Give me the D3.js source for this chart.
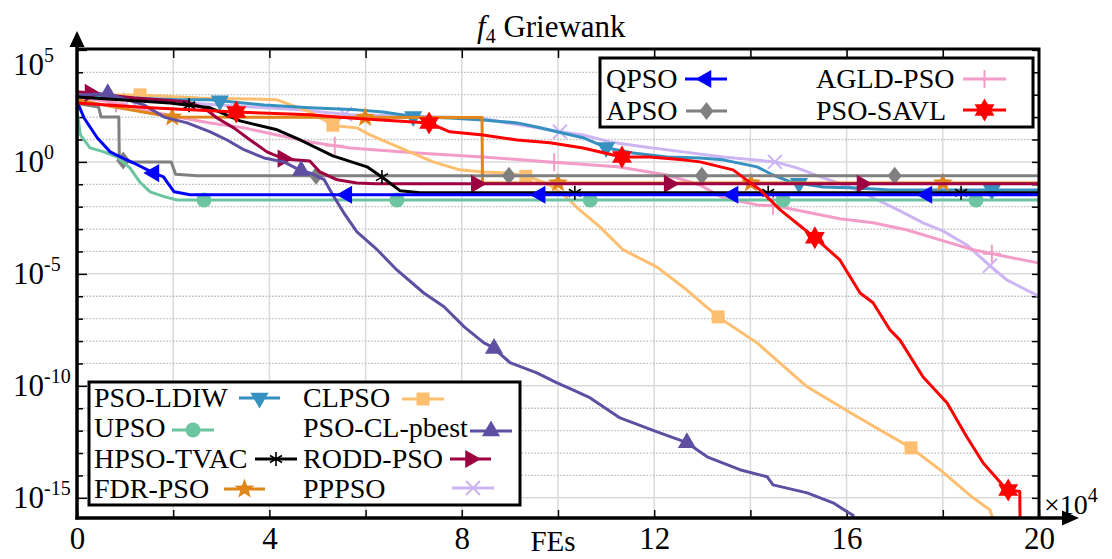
<!DOCTYPE html>
<html><head><meta charset="utf-8">
<script src="https://cdn.jsdelivr.net/npm/d3@7"></script>
<style>
body{margin:0;background:#fff;}
</style>
</head><body>
<svg id="chart" width="1112" height="559"></svg>
<script>
// ---------- data (x in units of 1e4 FEs, y = fitness) ----------
const xTickValues = [0, 4, 8, 12, 16, 20];
const yTickExponents = [5, 0, -5, -10, -15];

const PSO_LDIW = [[0,8.9e2],[2.08,5.9e2],[2.77,5.9e2],[3.89,3.5e2],[4.84,2.6e2],[5.82,2.1e2],[6.36,1.7e2],[7.07,1.0e2],[7.75,9.1e1],[8.44,7.5e1],[9.15,5.5e1],[9.56,3.6e1],[9.98,2.2e1],[10.52,1.2e1],[11.02,4.2],[11.56,2.5],[12.27,1.66],[12.95,1.5],[13.43,1.23],[14.14,0.6],[14.47,0.26],[14.82,0.13],[15.51,7.6e-2],[16.22,6.9e-2],[16.9,5.6e-2],[20,5.6e-2]];
const UPSO = [[0,2.0e2],[0.07,1.6e1],[0.27,4.2],[0.56,2.8],[0.83,1.66],[1.1,0.54],[1.3,0.13],[1.52,4.6e-2],[1.81,2.8e-2],[2.08,2.0e-2],[20,2.0e-2]];
const HPSO_TVAC = [[0,7.9e2],[1.93,4.3e2],[2.77,2.6e2],[3.39,6.8e1],[4.16,2.7e1],[4.64,9.5],[5.32,1.86],[6.03,0.6],[6.36,0.195],[6.72,5.1e-2],[7.13,4.2e-2],[20,4.2e-2]];
const FDR_PSO = [[0,5.9e2],[0.7,3.0e2],[1.46,1.55e2],[1.98,1.0e2],[8.42,9.5e1],[8.43,1.15e-1],[20,1.15e-1]];
const CLPSO = [[0,9.8e2],[1.31,9.8e2],[2.56,7.2e2],[3.6,6.5e2],[4.16,5.9e2],[4.84,1.7e2],[5.2,6.2e1],[5.34,4.1e1],[5.82,3.3e1],[6.09,1.6e1],[6.72,4.2],[7.4,1.0],[7.96,0.44],[8.44,0.35],[8.94,0.32],[9.42,0.21],[9.83,9.3e-2],[10.19,2.5e-2],[10.4,8.9e-3],[10.87,1.26e-3],[11.35,1.2e-4],[12.06,2.0e-5],[12.6,2.6e-6],[13.33,1.2e-7],[14.14,8.3e-9],[15.18,9.1e-11],[16.22,4.2e-12],[17.34,1.7e-13],[17.94,1.8e-14],[18.63,1.0e-15],[18.98,2.9e-16],[19.09,5e-17]];
const PSO_CL_pbest = [[0,9.8e2],[0.64,1.1e3],[1.39,3.5e2],[1.81,1.0e2],[2.29,5.5e1],[2.77,2.2e1],[3.12,9.5],[3.47,3.5],[3.89,1.5],[4.3,1.0],[4.62,0.44],[4.84,0.32],[5.14,0.16],[5.34,2.8e-2],[5.55,5.2e-3],[5.82,7.5e-4],[6.24,1.2e-4],[6.65,1.5e-5],[7.21,1.4e-6],[7.63,3.4e-7],[8.05,4.3e-8],[8.46,8.3e-9],[8.63,5.5e-9],[9.0,1.1e-9],[9.56,3.8e-10],[9.98,1.35e-10],[10.31,6.6e-11],[10.67,2.9e-11],[11.29,3.7e-12],[12.06,8.9e-13],[12.68,2.9e-13],[13.1,6.8e-14],[13.78,1.8e-14],[14.35,8.7e-15],[14.47,3.8e-15],[15.18,1.66e-15],[15.72,6.0e-16],[16.01,2.4e-16],[16.13,1.7e-16],[16.22,1e-17]];
const RODD_PSO = [[0,1.35e3],[0.27,1.2e3],[1.19,7.2e2],[2.29,4.8e2],[2.64,2.6e2],[2.91,9.1e1],[3.26,3.3e1],[3.6,9.5],[3.95,2.8],[4.3,1.35],[4.84,1.1],[5.05,0.355],[5.41,0.158],[5.82,0.115],[6.2,0.105],[20,0.105]];
const PPPSO = [[0,7.9e2],[1.1,5.9e2],[2.56,3.9e2],[4.64,2.1e2],[5.68,1.26e2],[8.38,9.1e1],[8.79,6.2e1],[9.48,3.6e1],[10.04,2.2e1],[10.52,1.6e1],[11.08,7.8],[11.77,4.7],[12.6,2.8],[13.43,1.66],[14.51,1.0],[14.97,0.54],[15.51,0.195],[16.07,7.6e-2],[16.55,2.5e-2],[17.11,6.5e-3],[17.59,1.9e-3],[18.0,8.3e-4],[18.5,1.95e-4],[18.98,2.3e-5],[19.33,5.4e-6],[19.98,1.05e-6]];
const QPSO = [[0,5.0e2],[0.15,8.9e1],[0.42,1.2e1],[0.69,2.8],[0.9,1.66],[1.18,0.89],[1.6,0.316],[1.8,0.214],[1.87,0.129],[2.02,4.6e-2],[2.35,3.4e-2],[20,3.4e-2]];
const APSO = [[0,4.0e2],[0.45,2.8e2],[0.5,1.0e2],[0.87,1.0e2],[0.88,1.26],[1.1,1.0],[1.96,1.0],[2.05,0.28],[2.5,0.24],[20,0.24]];
const AGLD_PSO = [[0,7.9e2],[0.69,4.8e2],[1.39,2.1e2],[2.08,1.0e2],[2.77,5.5e1],[3.47,3.3e1],[4.16,1.6e1],[4.84,7.8],[5.68,4.2],[7.07,2.5],[8.44,1.66],[9.83,1.0],[11.23,0.6],[12.27,0.26],[12.95,9.3e-2],[13.43,2.5e-2],[14.14,1.2e-2],[14.51,1.1e-2],[15.86,2.9e-3],[16.55,1.9e-3],[17.26,9.1e-4],[17.94,3.3e-4],[18.63,1.2e-4],[19.33,5.8e-5],[19.98,3.1e-5]];
const PSO_SAVL = [[0,4.3e2],[1.52,2.6e2],[3.31,1.7e2],[4.84,1.26e2],[5.68,9.1e1],[7.32,5.5e1],[7.75,2.2e1],[8.44,1.6e1],[9.15,9.5],[9.83,7.1],[10.52,4.2],[11.33,1.66],[11.91,1.66],[12.6,1.23],[12.95,1.0],[13.64,0.44],[14.2,5.6e-2],[14.62,7.2e-3],[15.34,4.1e-4],[15.86,4.2e-5],[16.28,1.4e-6],[16.55,5.1e-7],[16.9,3.2e-8],[17.11,1.1e-8],[17.59,2.5e-10],[18.09,1.7e-11],[18.5,5.2e-13],[18.84,3.6e-14],[19.33,2.3e-15],[19.6,1.9e-15],[19.61,1e-17]];

// marker x positions (x in 1e4 FEs)
const marksLDIW = [2.97, 6.99, 11.0, 15.01, 19.02];
const marksUPSO = [2.64, 6.65, 10.67, 14.68, 18.69];
const marksHPSO = [2.33, 6.34, 10.35, 14.37, 18.38];
const marksFDR = [1.98, 5.99, 10.0, 14.01, 18.0];
const marksCLPSO = [1.31, 5.32, 9.33, 13.33, 17.34];
const marksCLpbest = [0.64, 4.66, 8.67, 12.68];
const marksRODD = [0.27, 4.28, 8.3, 12.31, 16.32];
const marksPPPSO = [1.1, 5.57, 10.04, 14.51, 18.98];
const marksQPSO = [1.6, 5.61, 9.63, 13.64, 17.67];
const marksAPSO = [0.96, 4.97, 8.98, 12.99, 17.0];
const marksAGLD = [0.81, 5.36, 9.92, 14.47, 19.02];
const marksSAVL = [3.31, 7.32, 11.33, 15.34, 19.36];

const series = [
  {name:"PPPSO", data:PPPSO, color:"#cdb4f3", marker:"x", marks:marksPPPSO},
  {name:"AGLD-PSO", data:AGLD_PSO, color:"#f39cc8", marker:"plus", marks:marksAGLD},
  {name:"CLPSO", data:CLPSO, color:"#fdbf6f", marker:"square", marks:marksCLPSO},
  {name:"PSO-LDIW", data:PSO_LDIW, color:"#3690c0", marker:"triDown", marks:marksLDIW},
  {name:"FDR-PSO", data:FDR_PSO, color:"#e0861a", marker:"star", marks:marksFDR},
  {name:"APSO", data:APSO, color:"#808080", marker:"diamond", marks:marksAPSO},
  {name:"RODD-PSO", data:RODD_PSO, color:"#9e0142", marker:"triRight", marks:marksRODD},
  {name:"UPSO", data:UPSO, color:"#6cc5a0", marker:"circle", marks:marksUPSO},
  {name:"PSO-CL-pbest", data:PSO_CL_pbest, color:"#5e4fa2", marker:"triUp", marks:marksCLpbest},
  {name:"HPSO-TVAC", data:HPSO_TVAC, color:"#000000", marker:"asterisk", marks:marksHPSO},
  {name:"QPSO", data:QPSO, color:"#0000ff", marker:"triLeft", marks:marksQPSO},
  {name:"PSO-SAVL", data:PSO_SAVL, color:"#ff0000", marker:"hexagram", marks:marksSAVL}
];
const byName = {}; series.forEach(s => byName[s.name] = s);

const FONT = "'Liberation Serif', Tinos, 'Times New Roman', Times, 'Nimbus Roman', 'DejaVu Serif', 'Noto Serif', serif";

// ---------- layout ----------
const svg = d3.select("#chart");
const P = {l:77, r:1039, t:49, b:518};
const x = d3.scaleLinear().domain([0,20]).range([P.l,P.r]);
const y = d3.scaleLog().domain([Math.pow(10,-15.9), Math.pow(10,5.04)]).range([P.b,P.t]);

svg.append("defs").append("clipPath").attr("id","clip")
  .append("rect").attr("x",P.l).attr("y",P.t).attr("width",P.r-P.l).attr("height",P.b-P.t);

function txt(g, xx, yy, size){
  return g.append("text").attr("x",xx).attr("y",yy).attr("font-size",size)
    .attr("font-family",FONT).attr("fill","#000");
}

// gridlines
const grid = svg.append("g");
d3.range(2,20,2).forEach(v => {
  grid.append("line").attr("x1",x(v)).attr("x2",x(v)).attr("y1",P.t).attr("y2",P.b)
    .attr("stroke","#dadada").attr("stroke-width",1.5);
});
d3.range(-15,5).forEach(e => {
  const yy = y(Math.pow(10,e));
  const major = e % 5 === 0;
  grid.append("line").attr("x1",P.l).attr("x2",P.r).attr("y1",yy).attr("y2",yy)
    .attr("stroke", major ? "#dadada" : "#bdbdbd")
    .attr("stroke-width", major ? 1.5 : 1.3)
    .attr("stroke-dasharray", major ? null : "1.6,1.6");
});

// axes (inward ticks)
const decades = d3.range(-15,6).map(e => Math.pow(10,e));
const xAxis = svg.append("g").attr("transform",`translate(0,${P.b})`)
  .call(d3.axisBottom(x).tickValues(d3.range(0,21,2)).tickSize(-8).tickPadding(9)
        .tickFormat(d => xTickValues.includes(d) ? d : ""));
const xTop = svg.append("g").attr("transform",`translate(0,${P.t})`)
  .call(d3.axisTop(x).tickValues(d3.range(2,20,2)).tickSize(-9).tickFormat(""));
const yAxis = svg.append("g").attr("transform",`translate(${P.l},0)`)
  .call(d3.axisLeft(y).tickValues(decades).tickSize(-6).tickFormat(""));
const yRight = svg.append("g").attr("transform",`translate(${P.r},0)`)
  .call(d3.axisRight(y).tickValues(decades).tickSize(-7).tickFormat(""));
[xAxis,xTop,yAxis,yRight].forEach(g => {
  g.attr("font-family",FONT);
  g.select(".domain").remove();
  g.selectAll(".tick line").attr("stroke","#000").attr("stroke-width",1.5);
});
yAxis.selectAll(".tick line").attr("x2", d => (Math.round(Math.log10(d)) % 5 === 0) ? 10 : 6);
xAxis.selectAll(".tick text").attr("font-family",FONT).attr("font-size",31).attr("fill","#000");

// series lines + markers
const line = d3.line().x(d => x(d[0])).y(d => y(d[1]));
const plotG = svg.append("g").attr("clip-path","url(#clip)");

function valueAt(data, xv){
  for (let i=0;i<data.length-1;i++){
    const a=data[i], b=data[i+1];
    if (xv>=a[0] && xv<=b[0]){
      const t=(b[0]===a[0])?0:(xv-a[0])/(b[0]-a[0]);
      return Math.pow(10, Math.log10(a[1]) + t*(Math.log10(b[1])-Math.log10(a[1])));
    }
  }
  return data[data.length-1][1];
}

function triPath(r, angleDeg){
  const pts=[0,120,240].map(a => {
    const t=(a+angleDeg-90)*Math.PI/180;
    return [r*Math.cos(t), r*Math.sin(t)];
  });
  return "M"+pts.map(p=>p.join(",")).join("L")+"Z";
}
function starPath(R, n, innerRatio){
  let p="";
  for(let i=0;i<2*n;i++){
    const r = i%2===0 ? R : R*innerRatio;
    const t = -Math.PI/2 + i*Math.PI/n;
    p += (i===0?"M":"L")+(r*Math.cos(t)).toFixed(2)+","+(r*Math.sin(t)).toFixed(2);
  }
  return p+"Z";
}
function drawMarker(g, type, color, cx, cy){
  const m = g.append("g").attr("transform",`translate(${cx},${cy})`);
  switch(type){
    case "circle": m.append("circle").attr("r",7.5).attr("fill",color); break;
    case "square": m.append("rect").attr("x",-6.5).attr("y",-6.5).attr("width",13).attr("height",13).attr("fill",color); break;
    case "diamond": m.append("path").attr("d","M0,-9L7,0L0,9L-7,0Z").attr("fill",color); break;
    case "triUp": m.append("path").attr("d",triPath(10.5,0)).attr("fill",color); break;
    case "triDown": m.append("path").attr("d",triPath(10.5,180)).attr("fill",color); break;
    case "triLeft": m.append("path").attr("d",triPath(10.5,-90)).attr("fill",color); break;
    case "triRight": m.append("path").attr("d",triPath(10.5,90)).attr("fill",color); break;
    case "star": m.append("path").attr("d",starPath(10.5,5,0.42)).attr("fill",color); break;
    case "hexagram":
      m.append("path").attr("d",triPath(11.5,0)).attr("fill",color);
      m.append("path").attr("d",triPath(11.5,180)).attr("fill",color); break;
    case "x":
      m.append("path").attr("d","M-7,-7L7,7M-7,7L7,-7").attr("stroke",color).attr("stroke-width",2).attr("fill","none"); break;
    case "plus":
      m.append("path").attr("d","M-9,0L9,0M0,-9L0,9").attr("stroke",color).attr("stroke-width",2).attr("fill","none"); break;
    case "asterisk":
      m.append("path").attr("d","M0,-7L0,7M-6,-3.5L6,3.5M-6,3.5L6,-3.5").attr("stroke",color).attr("stroke-width",1.6).attr("fill","none"); break;
  }
}

series.forEach(s => {
  plotG.append("path").datum(s.data).attr("d",line)
    .attr("fill","none").attr("stroke",s.color).attr("stroke-width",3)
    .attr("stroke-linejoin","round");
  s.marks.forEach(mx => {
    const v = valueAt(s.data, mx);
    if (y(v) <= P.b) drawMarker(plotG, s.marker, s.color, x(mx), y(v));
  });
});

// frame
svg.append("path").attr("d",`M${P.l},${P.t}L${P.r},${P.t}L${P.r},${P.b}`)
  .attr("fill","none").attr("stroke","#000").attr("stroke-width",3);
svg.append("line").attr("x1",P.l).attr("x2",P.l).attr("y1",P.b+1.5).attr("y2",40)
  .attr("stroke","#000").attr("stroke-width",3.5);
svg.append("path").attr("d",`M${P.l},31L${P.l-7.5},47L${P.l+7.5},47Z`).attr("fill","#000");
svg.append("line").attr("x1",P.l-1.5).attr("x2",1068).attr("y1",P.b).attr("y2",P.b)
  .attr("stroke","#000").attr("stroke-width",3.5);
svg.append("path").attr("d",`M1079,${P.b}L1062,${P.b-7.5}L1062,${P.b+7.5}Z`).attr("fill","#000");

// y tick labels with superscripts
yTickExponents.forEach(e => {
  const ty = Math.max(y(Math.pow(10,e)) + 10, 75);
  const t = txt(svg, 13, ty, 31);
  t.append("tspan").text("10");
  t.append("tspan").attr("dy",-13).attr("font-size",20).text(String(e));
});

// x label and multiplier
txt(svg, 553, 551, 29).attr("text-anchor","middle").text("FEs");
const mult = txt(svg, 1044, 514, 28);
mult.append("tspan").text("\u00d710");
mult.append("tspan").attr("dy",-12).attr("font-size",20).text("4");

// title
const title = txt(svg, 477, 37, 31);
title.append("tspan").attr("font-style","italic").text("f");
title.append("tspan").attr("font-size",20).attr("dy",6).text("4");
title.append("tspan").attr("dy",-6).text(" Griewank");

// legends
function legendBox(x0,y0,w,h){
  svg.append("rect").attr("x",x0).attr("y",y0).attr("width",w).attr("height",h)
    .attr("fill","#fff").attr("stroke","#000").attr("stroke-width",3);
}
function legendItem(name, tx, ty, sx1, sx2, sy){
  const s = byName[name];
  txt(svg, tx, ty, 28).text(name);
  svg.append("line").attr("x1",sx1).attr("x2",sx2).attr("y1",sy).attr("y2",sy)
    .attr("stroke",s.color).attr("stroke-width",3);
  drawMarker(svg, s.marker, s.color, (sx1+sx2)/2, sy);
}
legendBox(600,58,433,69);
legendItem("QPSO",606,88,685,727,79);
legendItem("APSO",606,120,686,727,111);
legendItem("AGLD-PSO",816,88,963,1006,79);
legendItem("PSO-SAVL",816,120,963,1006,110);

legendBox(89,382,431,123);
legendItem("PSO-LDIW",94,407,239,280,398);
legendItem("UPSO",94,437,172,214,430);
legendItem("HPSO-TVAC",94,468,255,297,459);
legendItem("FDR-PSO",94,498,224,265,489);
legendItem("CLPSO",303,407,402,444,399);
legendItem("PSO-CL-pbest",303,437,470,512,431);
legendItem("RODD-PSO",303,468,450,491,459);
legendItem("PPPSO",303,498,452,494,488);
</script>
</body></html>
